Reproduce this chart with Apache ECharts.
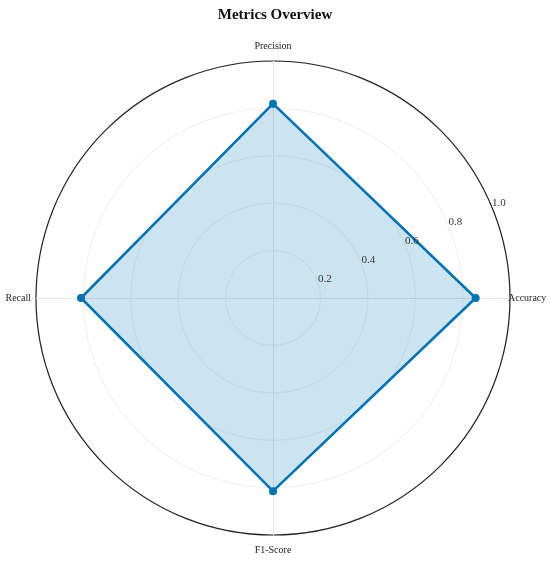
<!DOCTYPE html>
<html>
<head>
<meta charset="utf-8">
<script src="https://cdn.jsdelivr.net/npm/echarts@6/dist/echarts.min.js"></script>
<style>
  html, body { margin: 0; padding: 0; background: #fff; }
  #chart { width: 550px; height: 562px; }
</style>
</head>
<body>
<div id="chart"></div>
<script>
// metrics, counter-clockwise from the right
var metricNames = ['Accuracy', 'Precision', 'Recall', 'F1-Score'];
var metricValues = [0.855, 0.82, 0.81, 0.815];
var radialTicks = [0, 0.2, 0.4, 0.6, 0.8, 1.0];

var center = [273, 298];
var radius = 237;
var serif = '"Liberation Serif", "Times New Roman", serif';

var chart = echarts.init(document.getElementById('chart'));
chart.setOption({
  backgroundColor: '#fff',
  title: {
    text: 'Metrics Overview',
    left: 'center',
    top: 3,
    textStyle: { fontFamily: serif, fontSize: 15, fontWeight: 'bold', color: '#111' }
  },
  radar: {
    center: center,
    radius: radius,
    startAngle: 0,
    shape: 'circle',
    splitNumber: radialTicks.length - 1,
    indicator: metricNames.map(function (n) { return { name: n, min: 0, max: 1 }; }),
    axisName: {
      fontFamily: serif,
      fontSize: 10,
      color: '#222',
      formatter: function (name) {
        if (name === 'Precision') return '{t|' + name + '}';
        if (name === 'F1-Score') return '{b|' + name + '}';
        if (name === 'Recall') return '{l|' + name + '}';
        return name;
      },
      rich: {
        t: { fontFamily: serif, fontSize: 10, color: '#222', padding: [0, 0, 12, 0] },
        b: { fontFamily: serif, fontSize: 10, color: '#222', padding: [12, 0, 0, 0] },
        l: { fontFamily: serif, fontSize: 10, color: '#222', padding: [0, 7, 0, 0] }
      }
    },
    nameGap: -2,
    axisLine: { lineStyle: { color: '#e3e3e3', type: 'dotted', width: 1 } },
    splitLine: { lineStyle: { color: '#e0e0e0', type: 'dotted', width: 1 } },
    splitArea: { show: false }
  },
  polar: { center: center, radius: radius },
  angleAxis: {
    type: 'value',
    min: 0,
    max: 360,
    startAngle: 23.5,
    axisLine: { show: true, lineStyle: { color: '#222', width: 1.2 } },
    axisTick: { show: false },
    axisLabel: { show: false },
    splitLine: { show: false }
  },
  radiusAxis: {
    type: 'value',
    min: radialTicks[0],
    max: radialTicks[radialTicks.length - 1],
    interval: 0.2,
    axisLine: { show: false },
    axisTick: { show: false },
    splitLine: { show: false },
    axisLabel: {
      margin: 0,
      align: 'center',
      verticalAlign: 'middle',
      padding: [0, 0, 10, 17],
      fontFamily: serif,
      fontSize: 11,
      color: '#333',
      formatter: function (v) { return v === 0 ? '' : v.toFixed(1); }
    },
    z: 5
  },
  series: [{
    type: 'radar',
    symbol: 'circle',
    symbolSize: 8,
    lineStyle: { color: '#0072B2', width: 2.5 },
    itemStyle: { color: '#0072B2' },
    areaStyle: { color: '#0072B2', opacity: 0.2 },
    data: [{ value: metricValues, name: 'Metrics' }]
  }]
});
</script>
</body>
</html>
